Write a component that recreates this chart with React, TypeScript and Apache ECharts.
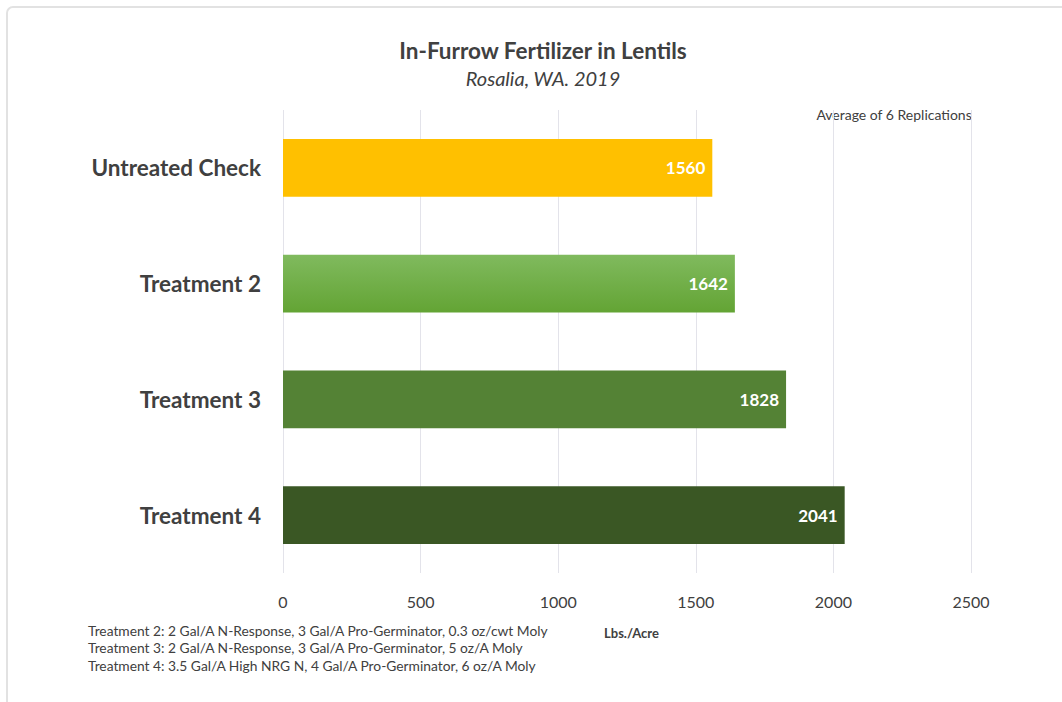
import React, { useEffect, useRef } from "react";
import * as echarts from "echarts";

const categories = ["Untreated Check", "Treatment 2", "Treatment 3", "Treatment 4"];
const yields = [1560, 1642, 1828, 2041];
const barColors = ["#FFC000", "#70AD47", "#548235", "#3A5724"];
const xTicks = [0, 500, 1000, 1500, 2000, 2500];
const footnotes = [
  "Treatment 2: 2 Gal/A N-Response, 3 Gal/A Pro-Germinator, 0.3 oz/cwt Moly",
  "Treatment 3: 2 Gal/A N-Response, 3 Gal/A Pro-Germinator, 5 oz/A Moly",
  "Treatment 4: 3.5 Gal/A High NRG N, 4 Gal/A Pro-Germinator, 6 oz/A Moly",
];

const FONT = "Lato";

export default function App() {
  const ref = useRef<HTMLDivElement>(null);
  useEffect(() => {
    if (!ref.current) return;
    const chart = echarts.init(ref.current, null, { renderer: "svg" });
    const rev = categories.slice().reverse();
    const revVals = yields.slice().reverse();
    const revColors = barColors.slice().reverse();
    chart.setOption({
      animation: false,
      backgroundColor: "#ffffff",
      textStyle: { fontFamily: FONT },
      title: [
        {
          text: "In-Furrow Fertilizer in Lentils",
          left: 538,
          top: 34,
          textAlign: "center",
          textStyle: { fontFamily: FONT, fontSize: 22.5, fontWeight: "bold", color: "#404040" },
        },
        {
          text: "Rosalia, WA. 2019",
          left: 538,
          top: 63,
          textAlign: "center",
          textStyle: { fontFamily: FONT, fontSize: 20, fontStyle: "italic", fontWeight: "normal", color: "#404040" },
        },
      ],
      grid: { left: 283, right: 91, top: 110, bottom: 129, containLabel: false },
      xAxis: {
        type: "value",
        min: 0,
        max: 2500,
        interval: 500,
        axisLine: { show: false },
        axisTick: { show: false },
        splitLine: { show: true, lineStyle: { color: "#E3E3EA", width: 1 } },
        axisLabel: {
          fontFamily: FONT,
          fontSize: 16,
          color: "#404040",
          margin: 20,
          formatter: (v: number) => (xTicks.includes(v) ? String(v) : ""),
        },
      },
      yAxis: {
        type: "category",
        data: rev,
        axisLine: { show: false },
        axisTick: { show: false },
        splitLine: { show: false },
        axisLabel: {
          fontFamily: FONT,
          fontSize: 22.5,
          fontWeight: "bold",
          color: "#404040",
          margin: 22,
        },
      },
      series: [
        {
          type: "bar",
          barCategoryGap: "50%",
          data: revVals.map((v, i) => ({
            value: v,
            itemStyle: {
              color:
                revColors[i] === "#70AD47"
                  ? new echarts.graphic.LinearGradient(0, 0, 0, 1, [
                      { offset: 0, color: "#80BA5E" },
                      { offset: 1, color: "#63A434" },
                    ])
                  : revColors[i],
            },
          })),
          label: {
            show: true,
            position: "insideRight",
            distance: 7,
            fontFamily: FONT,
            fontSize: 17,
            fontWeight: "bold",
            color: "#ffffff",
          },
        },
      ],
      graphic: [
        {
          type: "rect",
          shape: { x: 7, y: 7, width: 1200, height: 900, r: 6 },
          style: { fill: "none", stroke: "#E2E2E2", lineWidth: 2 },
          silent: true,
          z: -1,
        },
        {
          type: "text",
          right: 90,
          top: 107,
          style: { text: "Average of 6 Replications", fontFamily: FONT, fontSize: 14, fill: "#404040" },
        },
        {
          type: "text",
          left: 604,
          top: 626,
          style: { text: "Lbs./Acre", fontFamily: FONT, fontSize: 13, fontWeight: "bold", fill: "#404040" },
        },
        ...footnotes.map((t, i) => ({
          type: "text",
          left: 88,
          top: 623 + i * 17.5,
          style: { text: t, fontFamily: FONT, fontSize: 13.8, fill: "#404040" },
        })),
      ],
    });
    return () => chart.dispose();
  }, []);
  return (
    <div
      ref={ref}
      style={{ position: "fixed", left: 0, top: 0, width: 1062, height: 702 }}
    />
  );
}
